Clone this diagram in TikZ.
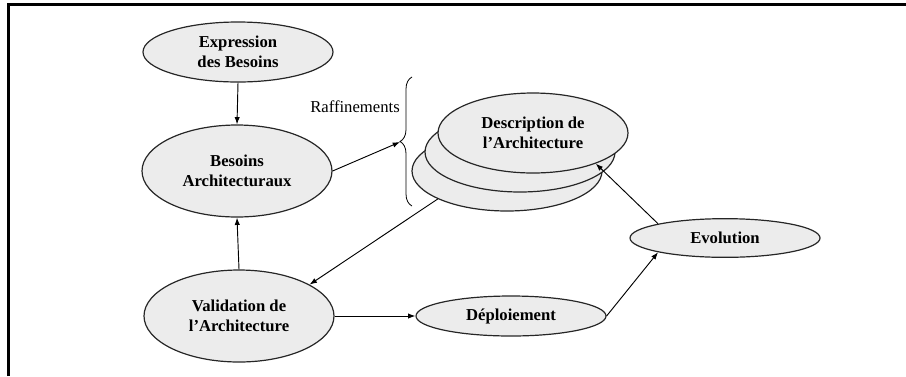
\documentclass[tikz,border=0pt]{standalone}
\usepackage{fontspec}
\setmainfont{Liberation Serif}
\usetikzlibrary{arrows.meta,shapes.geometric,decorations.pathreplacing}

\begin{document}
\begin{tikzpicture}[
x=0.75pt, y=-0.75pt,
>={Latex[length=5.5pt,width=4pt]},
bubble/.style={ellipse, draw=black!85, fill=gray!15, line width=0.9pt, inner sep=0pt,
  align=center, font=\fontsize{12.5}{15}\selectfont\bfseries, minimum width=142.5pt},
link/.style={->, line width=0.7pt}
]
    \useasboundingbox (0,0) rectangle (906,376);
    % frame
    \draw[line width=1.9pt] (8.5,376) -- (8.5,4.5) -- (906,4.5);

    \node[bubble, minimum height=45pt] (expr) at (238,52) {Expression\\des Besoins};
    \node[bubble, minimum height=69pt] (besoins) at (237,171) {Besoins\\Architecturaux};
    \node[bubble, minimum height=69pt] (valid) at (239,316) {Validation de\\l’Architecture};
    \node[bubble, minimum height=30pt] (deploy) at (511,316) {Déploiement};
    \node[bubble, minimum height=29pt] (evol) at (725,238) {Evolution};

    % stack of descriptions
    \node[bubble, minimum height=60pt] (desc3) at (507,171) {};
    \node[bubble, minimum height=60pt] (desc2) at (520,152) {};
    \node[bubble, minimum height=60pt] (desc) at (533,133) {Description de\\l’Architecture};

    \node[font=\fontsize{12.5}{15}\selectfont] (raff) at (355,107) {Raffinements};
    \draw[line width=0.6pt, decorate, decoration={brace, amplitude=9pt}] (412,206) -- (412,77);
    \coordinate (bracetip) at (400,142);

    \draw[link] (expr.south) -- (besoins.north);
    \draw[link] (besoins.east) -- (bracetip);
    \draw[link] (valid.north) -- (besoins.south);
    \draw[link] (desc3.202) -- (valid.24);
    \draw[link] (valid.east) -- (deploy.west);
    \draw[link] (deploy.east) -- (evol.192);
    \draw[link] (evol.168) -- (desc.-26);
\end{tikzpicture}
\end{document}
